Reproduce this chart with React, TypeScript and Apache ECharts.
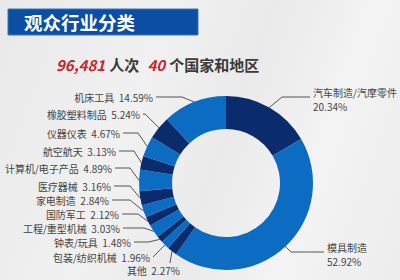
import React, { useEffect, useRef } from "react";
import * as echarts from "echarts";

const categories = [
  "汽车制造/汽摩零件",
  "模具制造",
  "其他",
  "包装/纺织机械",
  "钟表/玩具",
  "工程/重型机械",
  "国防军工",
  "家电制造",
  "医疗器械",
  "计算机/电子产品",
  "航空航天",
  "仪器仪表",
  "橡胶塑料制品",
  "机床工具",
];
const shares = [20.34, 52.92, 2.27, 1.96, 1.48, 3.03, 2.12, 2.84, 3.16, 4.89, 3.13, 4.67, 5.24, 14.59];
const titleText = "观众行业分类";
const visitors = "96,481";
const countries = "40";

const DARK = "#0a2b6c";
const BRIGHT = "#0c6cc2";
const CX = 226;
const CY = 183;
const R0 = 54;
const R1 = 87;

// label placement (layout only): x, y, align, bend x, inward factor for anchor
const LAYOUT: { x: number; y: number; align: "left" | "right"; bx?: number; f?: number; custom?: string }[] = [
  { x: 313, y: 99, align: "left", bx: 282 },
  { x: 327, y: 254, align: "left", bx: 291, f: 0.86 },
  { x: 180, y: 270, align: "right", custom: "up" },
  { x: 150, y: 257, align: "right", bx: 153 },
  { x: 131, y: 242, align: "right", bx: 149 },
  { x: 120, y: 228, align: "right", bx: 144 },
  { x: 119, y: 214, align: "right", bx: 138 },
  { x: 109, y: 200, align: "right", bx: 130 },
  { x: 111, y: 186, align: "right", bx: 130 },
  { x: 112, y: 168, align: "right", bx: 130 },
  { x: 116, y: 151, align: "right", bx: 134 },
  { x: 120, y: 133, align: "right", bx: 138 },
  { x: 140, y: 114, align: "right", bx: 145 },
  { x: 153, y: 97, align: "right", bx: 182 },
];

export default function App() {
  const ref = useRef<HTMLDivElement>(null);
  useEffect(() => {
    if (!ref.current) return;
    const chart = echarts.init(ref.current, null, { renderer: "svg" });
    const font = "'Noto Sans CJK SC', 'Noto Sans', sans-serif";
    const data = categories.map((name, i) => ({
      name,
      value: shares[i],
      itemStyle: { color: i % 2 === 0 ? DARK : BRIGHT },
    }));
    chart.setOption({
      animation: false,
      backgroundColor: "transparent",
      graphic: [
        {
          type: "rect",
          shape: { x: 8, y: 9, width: 190, height: 26 },
          style: { fill: "#0b4ea3", stroke: "#3d74bd", lineWidth: 1 },
        },
        {
          type: "text",
          x: 24,
          y: 22,
          style: {
            text: titleText,
            fill: "#ffffff",
            fontSize: 18.5,
            fontWeight: "bold",
            fontFamily: font,
            verticalAlign: "middle",
          },
        },
      ],
      title: {
        left: 51,
        top: 50,
        text: `{r|${visitors}} {k|人次}  {r|${countries}} {k|个国家和地区}`,
        textStyle: {
          fontFamily: font,
          rich: {
            r: { color: "#c4272e", fontSize: 15, fontStyle: "italic", fontFamily: font },
            k: { color: "#3a3a3a", fontSize: 15, fontFamily: font },
          },
        },
      },
      series: [
        {
          type: "pie",
          center: [CX, CY],
          radius: [R0, R1],
          startAngle: 90,
          clockwise: true,
          avoidLabelOverlap: false,
          data,
          label: {
            show: true,
            position: "outside",
            fontFamily: font,
            fontSize: 10,
            color: "#444",
            lineHeight: 14,
            formatter: (p: any) =>
              p.dataIndex <= 1
                ? `${p.name}\n${p.value.toFixed(2)}%`
                : `${p.name}  ${p.value.toFixed(2)}%`,
          },
          labelLine: {
            show: true,
            lineStyle: { color: "#555", width: 1 },
          },
          labelLayout: (params: any) => {
            const i = params.dataIndex;
            const s = LAYOUT[i];
            const p0 = params.labelLinePoints ? params.labelLinePoints[0] : [CX, CY];
            const f = s.f ?? 1;
            const a = [CX + (p0[0] - CX) * f, CY + (p0[1] - CY) * f];
            let pts: number[][];
            if (s.custom === "up") {
              pts = [a, [a[0] - 2, s.y - 7]];
            } else if (s.align === "right") {
              pts = [a, [s.bx!, s.y], [s.x + 3, s.y]];
            } else {
              pts = [a, [s.bx!, s.y - 2], [s.x - 3, s.y - 2]];
            }
            return {
              x: s.x,
              y: s.y,
              align: s.align,
              verticalAlign: "middle",
              labelLinePoints: pts,
            };
          },
        },
      ],
    });
    return () => chart.dispose();
  }, []);
  return (
    <div
      style={{
        position: "absolute",
        left: 0,
        top: 0,
        width: 400,
        height: 280,
        background:
          "linear-gradient(110deg, #e9e9e9 0%, #f1f1f1 35%, #eaeaea 55%, #f3f3f3 75%, #ededed 100%)",
      }}
    >
      <div ref={ref} style={{ width: 400, height: 280 }} />
    </div>
  );
}
